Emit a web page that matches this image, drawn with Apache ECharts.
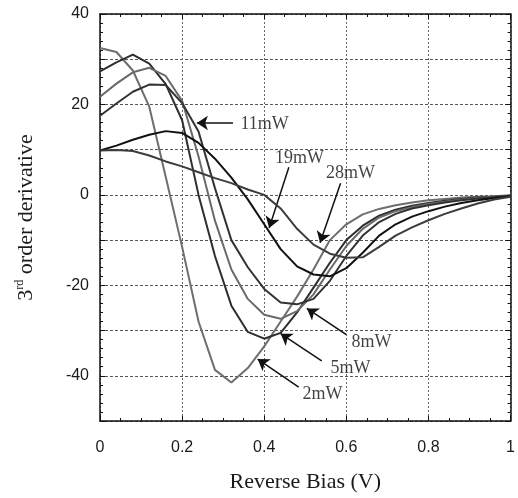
<!DOCTYPE html>
<html>
<head>
<meta charset="utf-8">
<script src="https://cdn.jsdelivr.net/npm/echarts@6/dist/echarts.min.js"></script>
<style>
  html, body { margin: 0; padding: 0; background: #fff; }
  #chart { width: 518px; height: 498px; }
</style>
</head>
<body>
<div id="chart"></div>
<script>
// Reverse bias (V), sampled every 0.04 V
const biasV = [0, 0.04, 0.08, 0.12, 0.16, 0.2, 0.24, 0.28, 0.32, 0.36, 0.4, 0.44, 0.48,
  0.52, 0.56, 0.6, 0.64, 0.68, 0.72, 0.76, 0.8, 0.84, 0.88, 0.92, 0.96, 1];

// 3rd order derivative for each optical power
const d2mW = [32.5, 31.6, 27.5, 19.5, 4, -11.5, -28, -38.7, -41.5, -38.3, -33.5, -28, -22.5,
  -16.5, -10, -6.5, -4.3, -3.1, -2.3, -1.7, -1.2, -0.9, -0.6, -0.4, -0.3, -0.1];
const d5mW = [27.3, 29.3, 31, 29, 24.5, 16.5, 0, -13.5, -24.5, -30.3, -31.8, -30.5, -26,
  -20.5, -15, -10, -6.8, -4.6, -3.3, -2.4, -1.8, -1.3, -0.9, -0.6, -0.4, -0.2];
const d8mW = [21.7, 24.6, 27.1, 28.1, 26.3, 20.8, 8.5, -5.7, -16.5, -23, -26.5, -27.4, -25.7,
  -22, -16.5, -11.3, -7.5, -5, -3.6, -2.7, -2, -1.5, -1.1, -0.7, -0.4, -0.2];
const d11mW = [17.5, 20.2, 22.8, 24.4, 24.3, 20.3, 14, 1.5, -10, -16, -20.8, -23.8, -24.2,
  -23, -19, -13.5, -9, -6, -4.2, -3, -2.3, -1.7, -1.2, -0.8, -0.5, -0.2];
const d19mW = [9.8, 10.9, 12.2, 13.3, 14.1, 13.7, 11.5, 8, 3.8, -1, -6.5, -12, -15.8,
  -17.6, -18, -16.2, -12.8, -9, -6.5, -4.8, -3.6, -2.6, -1.8, -1.2, -0.7, -0.3];
const d28mW = [9.8, 9.9, 9.7, 8.7, 7.4, 6.3, 5, 3.7, 2.6, 1.2, 0, -3, -7.5,
  -11, -13, -13.9, -13.8, -11.5, -9, -7.2, -5.6, -4.2, -3, -1.9, -1, -0.4];

const seriesNames = ['2mW', '5mW', '8mW', '11mW', '19mW', '28mW'];
const seriesValues = [d2mW, d5mW, d8mW, d11mW, d19mW, d28mW];
const seriesColors = ['#6e6e6e', '#2e2e2e', '#6a6a6a', '#333333', '#111111', '#3c3c3c'];

// annotation labels and arrows, in data coordinates
const noteText = ['11mW', '19mW', '28mW', '8mW', '5mW', '2mW'];
const notePos = [[0.401, 15.6], [0.486, 8.0], [0.61, 4.8], [0.661, -32.5], [0.61, -38.3], [0.542, -44]];
const arrowFrom = [[0.324, 15.9], [0.46, 6.1], [0.586, 2.6], [0.6, -30.9], [0.54, -36.7], [0.484, -42.5]];
const arrowTo = [[0.236, 15.9], [0.412, -7.3], [0.536, -10.6], [0.504, -25.1], [0.44, -30.7], [0.384, -36.3]];

const chart = echarts.init(document.getElementById('chart'));

const axisColor = '#111';
const sansLabel = { fontFamily: 'Liberation Sans', fontSize: 16, color: '#1a1a1a' };

function frameAxis(extra) {
  return Object.assign({
    type: 'value',
    axisLine: { show: true, onZero: false, lineStyle: { color: axisColor, width: 1.5 } },
    axisTick: { show: true, inside: true, length: 5, lineStyle: { color: axisColor, width: 1 } },
    minorTick: { show: true, length: 3, lineStyle: { color: axisColor, width: 1 } },
    splitLine: { show: false }
  }, extra);
}

const lineSeries = seriesNames.map((name, i) => ({
  name: name,
  type: 'line',
  data: biasV.map((x, j) => [x, seriesValues[i][j]]),
  showSymbol: false,
  symbol: 'none',
  lineStyle: { color: seriesColors[i], width: 2 },
  itemStyle: { color: seriesColors[i] },
  z: 3 + i
}));

const option = {
  animation: false,
  backgroundColor: '#fff',
  grid: { left: 100, right: 1.3, top: 14, bottom: 70 },
  xAxis: [
    frameAxis({
      min: 0, max: 1, interval: 0.2,
      minorTick: { show: true, splitNumber: 4, length: 3, lineStyle: { color: axisColor, width: 1 } },
      axisLabel: Object.assign({ margin: 19 }, sansLabel),
      splitLine: { show: true, lineStyle: { color: '#666', width: 1, type: [2, 2] } },
      name: 'Reverse Bias (V)',
      nameLocation: 'middle',
      nameGap: 50,
      nameTextStyle: { fontFamily: 'Liberation Serif', fontSize: 22, color: '#1a1a1a' }
    }),
    frameAxis({
      position: 'top', min: 0, max: 1, interval: 0.2,
      minorTick: { show: true, splitNumber: 4, length: 3, lineStyle: { color: axisColor, width: 1 } },
      axisLabel: { show: false }
    })
  ],
  yAxis: [
    frameAxis({
      min: -50, max: 40, interval: 10,
      minorTick: { show: true, splitNumber: 5, length: 3, lineStyle: { color: axisColor, width: 1 } },
      axisLabel: Object.assign({ margin: 11, formatter: v => (v % 20 === 0 ? String(v) : '') }, sansLabel),
      splitLine: { show: true, lineStyle: { color: '#555', width: 1, type: [3, 2] } },
      name: '{n|3}{sup|rd}{n| order derivative}',
      nameLocation: 'middle',
      nameGap: 62,
      nameTextStyle: {
        rich: {
          n: { fontFamily: 'Liberation Serif', fontSize: 22, color: '#1a1a1a', lineHeight: 24 },
          sup: { fontFamily: 'Liberation Serif', fontSize: 12, color: '#1a1a1a', verticalAlign: 'top', lineHeight: 24, padding: [0, 0, 10, 0] }
        }
      }
    }),
    frameAxis({
      position: 'right', min: -50, max: 40, interval: 10,
      minorTick: { show: true, splitNumber: 5, length: 3, lineStyle: { color: axisColor, width: 1 } },
      axisLabel: { show: false }
    })
  ],
  series: lineSeries.concat([{
    name: 'notes',
    type: 'scatter',
    data: notePos,
    symbolSize: 0,
    silent: true,
    z: 10,
    label: {
      show: true,
      position: 'inside',
      formatter: p => noteText[p.dataIndex],
      fontFamily: 'Liberation Serif',
      fontSize: 18,
      color: '#111'
    },
    markLine: {
      silent: true,
      symbol: ['none', 'arrow'],
      symbolSize: 11,
      label: { show: false },
      lineStyle: { color: '#111', width: 1.5, type: 'solid' },
      data: arrowFrom.map((f, i) => [{ coord: f }, { coord: arrowTo[i] }])
    }
  }])
};

chart.setOption(option);
</script>
</body>
</html>
